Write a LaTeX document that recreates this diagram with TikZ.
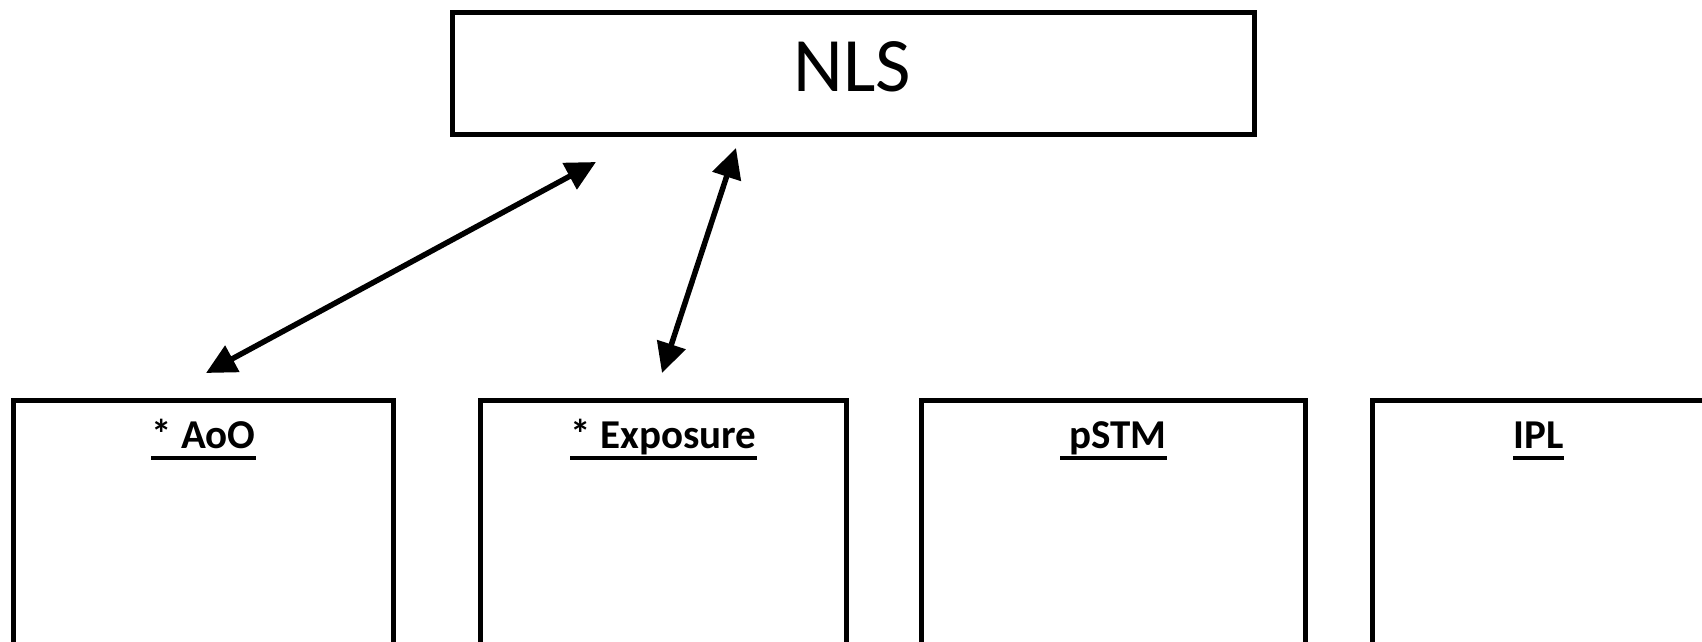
\documentclass[tikz,border=0pt]{standalone}
\usepackage{fontspec}
\setmainfont{Carlito}
\usetikzlibrary{arrows.meta,calc}
\begin{document}
\begin{tikzpicture}[x=1pt,y=-1pt,
  frame/.style={draw=black, line width=5pt, inner sep=0pt, anchor=north west},
  headline/.style={anchor=base, inner sep=0pt, font=\fontsize{41}{49}\selectfont\bfseries},
  uline/.style={line width=3.5pt},
  link/.style={line width=5.5pt,
    {Triangle[length=30pt,width=29pt]}-{Triangle[length=30pt,width=29pt]}}]
\useasboundingbox (0,0) rectangle (1702,642);
\fill[white] (0,0) rectangle (1702,642);

% top box
\node[frame, minimum width=802pt, minimum height=122pt] (nls) at (450,10) {};
\node[anchor=base, inner sep=0pt, font=\fontsize{77}{90}\selectfont] (nlst) at (852,92) {NLS};

% lower boxes (running off the bottom edge)
\node[frame, minimum width=380pt, minimum height=245pt] (aoo) at (11,398) {};
\node[frame, minimum width=366pt, minimum height=245pt] (exp) at (478,398) {};
\node[frame, minimum width=384pt, minimum height=245pt] (pstm) at (919,398) {};
\node[frame, minimum width=332pt, minimum height=245pt] (ipl) at (1370,398) {};

% underlined headings
\node[headline] (aoot) at ($(aoo.north)+(0,50)$) {* AoO};
\node[headline] (expt) at ($(exp.north)+(0,50)$) {* Exposure};
\node[headline] (pstmt) at ($(pstm.north)+(0,50)$) {\ pSTM};
\node[headline] (iplt) at ($(ipl.north)+(0,50)$) {IPL};
\foreach \t in {aoot,expt,pstmt,iplt}
  \draw[uline] ([yshift=-10pt]\t.base west) -- ([yshift=-10pt]\t.base east);

% two-way links
\coordinate (nlsA) at (596,162);
\coordinate (aooA) at (206,373);
\coordinate (nlsB) at (736,148);
\coordinate (expB) at (662,373);
\draw[link] (aooA) -- (nlsA);
\draw[link] (expB) -- (nlsB);
\end{tikzpicture}
\end{document}
